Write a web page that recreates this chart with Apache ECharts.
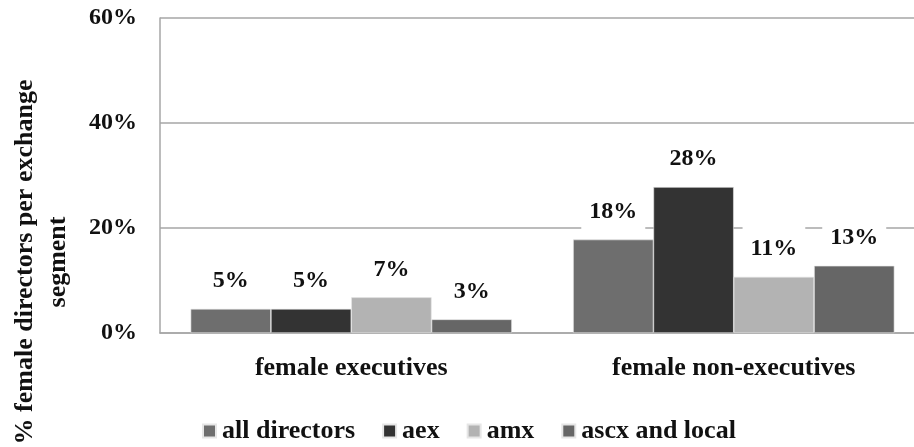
<!DOCTYPE html>
<html>
<head>
<meta charset="utf-8">
<script src="https://cdn.jsdelivr.net/npm/echarts@6/dist/echarts.min.js"></script>
<style>
    html, body { margin: 0; padding: 0; background: #fff; }
    #chart { width: 914px; height: 447px; }
</style>
</head>
<body>
<div id="chart"></div>
<script>
    var categories = ['female executives', 'female non-executives'];
    var seriesNames = ['all directors', 'aex', 'amx', 'ascx and local'];
    var allDirectors = [4.6, 17.8];
    var aex = [4.6, 27.8];
    var amx = [6.8, 10.7];
    var ascxLocal = [2.6, 12.8];
    var yTicks = [0, 20, 40, 60];

    var fontFamily = '"Liberation Serif", "DejaVu Serif", serif';
    var axisColor = '#a6a6a6';
    var colors = ['#6e6e6e', '#333333', '#b3b3b3', '#666666'];

    function buildSerie(name, values, color) {
        return {
            name: name,
            type: 'bar',
            data: values,
            barGap: '0%',
            barCategoryGap: '16%',
            itemStyle: {
                color: color,
                borderColor: '#e6e6e6',
                borderWidth: 0.6
            },
            label: {
                show: true,
                position: 'top',
                distance: 4,
                formatter: function (p) {
                    return Math.round(p.value) + '%';
                },
                fontFamily: fontFamily,
                fontWeight: 'bold',
                fontSize: 24,
                color: '#111',
                backgroundColor: '#fff',
                padding: [12, 8, 12, 8]
            }
        };
    }

    var chart = echarts.init(document.getElementById('chart'));
    chart.setOption({
        animation: false,
        grid: {
            left: 160,
            right: -11,
            top: 18,
            bottom: 114,
            outerBoundsMode: 'none'
        },
        legend: {
            data: seriesNames,
            left: 197,
            top: 413,
            itemWidth: 13,
            itemHeight: 13,
            itemGap: 27,
            icon: 'rect',
            textStyle: {
                fontFamily: fontFamily,
                fontWeight: 'bold',
                fontSize: 26,
                color: '#111',
                padding: [0, 0, 0, 1]
            }
        },
        xAxis: {
            type: 'category',
            data: categories,
            axisLine: { lineStyle: { color: axisColor, width: 1.5 } },
            axisTick: { show: false },
            axisLabel: {
                margin: 22,
                fontFamily: fontFamily,
                fontWeight: 'bold',
                fontSize: 26,
                color: '#111'
            }
        },
        yAxis: {
            type: 'value',
            min: yTicks[0],
            max: yTicks[yTicks.length - 1],
            interval: yTicks[1] - yTicks[0],
            axisLine: { show: true, lineStyle: { color: axisColor, width: 1.5 } },
            axisTick: { show: false },
            splitLine: { lineStyle: { color: axisColor, width: 1.5 } },
            axisLabel: {
                margin: 23,
                formatter: '{value}%',
                fontFamily: fontFamily,
                fontWeight: 'bold',
                fontSize: 24,
                color: '#111'
            }
        },
        graphic: [{
            type: 'text',
            x: 42,
            y: 262,
            rotation: Math.PI / 2,
            style: {
                text: '% female directors per exchange\nsegment',
                align: 'center',
                verticalAlign: 'middle',
                lineHeight: 33,
                font: 'bold 26px ' + fontFamily,
                fill: '#111'
            }
        }],
        series: [
            buildSerie(seriesNames[0], allDirectors, colors[0]),
            buildSerie(seriesNames[1], aex, colors[1]),
            buildSerie(seriesNames[2], amx, colors[2]),
            buildSerie(seriesNames[3], ascxLocal, colors[3])
        ]
    });
</script>
</body>
</html>
